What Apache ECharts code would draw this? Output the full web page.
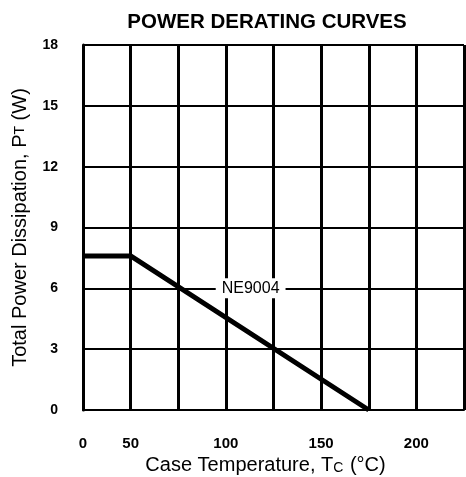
<!DOCTYPE html>
<html><head><meta charset="utf-8">
<script src="https://cdn.jsdelivr.net/npm/echarts@6/dist/echarts.min.js"></script>
<style>html,body{margin:0;padding:0;background:#fff;overflow:hidden}#c{width:466px;height:477px}</style>
</head><body><div id="c"></div>
<script>
// Data (case temperature in °C, total power dissipation in W)
const temps = [0, 50, 175];
const power = [7.6, 7.6, 0];
const xTickLabels = ['0', '50', '100', '150', '200'];
const xTickValues = [0, 50, 100, 150, 200];
const seriesName = 'NE9004';
const labelAt = [113, 6];

// Broken x scale: 0..50 compressed into one 25-wide column
function mapT(t) { return t < 50 ? 25 + t / 2 : t; }
function labelFor(v) {
  for (let i = 0; i < xTickValues.length; i++) {
    if (Math.abs(mapT(xTickValues[i]) - v) < 0.01) return xTickLabels[i];
  }
  return '';
}

const font = 'Liberation Sans, Arial, sans-serif';
const chart = echarts.init(document.getElementById('c'), null, {renderer: 'canvas'});
chart.setOption({
  animation: false,
  title: {
    text: 'POWER DERATING CURVES', left: 262, top: 7, textAlign: 'center',
    textStyle: {fontFamily: font, fontWeight: 'bold', fontSize: 20.5, color: '#000'}
  },
  grid: {left: 83, right: 2, top: 45, bottom: 67, containLabel: false, outerBoundsMode: 'none'},
  xAxis: {
    type: 'value', min: 25, max: 225, interval: 25,
    name: 'Case Temperature, T{s|C} (°C)', nameLocation: 'middle', nameGap: 45,
    nameTextStyle: {fontFamily: font, fontSize: 20, color: '#000', verticalAlign: 'top', padding: [0, 16, 0, 0],
      rich: {s: {fontFamily: font, fontSize: 14, color: '#000', padding: [5,1,0,0]}}},
    axisLine: {show: true, lineStyle: {color: '#000', width: 2}},
    axisTick: {show: false},
    axisLabel: {margin: 26, formatter: labelFor, fontFamily: font, fontWeight: 'bold', fontSize: 15, color: '#000', showMinLabel: true, showMaxLabel: true},
    splitLine: {show: true, lineStyle: {color: '#000', width: 3}}
  },
  yAxis: {
    type: 'value', min: 0, max: 18, interval: 3,
    name: 'Total Power Dissipation, P{s|T} (W)', nameLocation: 'middle', nameGap: 53,
    nameTextStyle: {fontFamily: font, fontSize: 20, color: '#000',
      rich: {s: {fontFamily: font, fontSize: 14, color: '#000'}}},
    axisLine: {show: true, lineStyle: {color: '#000', width: 3}},
    axisTick: {show: false},
    axisLabel: {margin: 25, fontFamily: font, fontWeight: 'bold', fontSize: 14, color: '#000'},
    splitLine: {show: true, lineStyle: {color: '#000', width: 2}}
  },
  series: [{
    name: seriesName, type: 'line', symbol: 'none',
    data: temps.map((t, i) => [mapT(t), power[i]]),
    lineStyle: {color: '#000', width: 5},
    markPoint: {
      symbol: 'rect', symbolSize: 1, itemStyle: {color: 'rgba(0,0,0,0)'},
      data: [{coord: labelAt, value: seriesName}],
      label: {show: true, position: 'inside', formatter: seriesName, fontFamily: font, fontSize: 16, color: '#000',
        backgroundColor: '#fff', padding: [2, 6, 2, 6]}
    }
  }]
});
</script></body></html>
